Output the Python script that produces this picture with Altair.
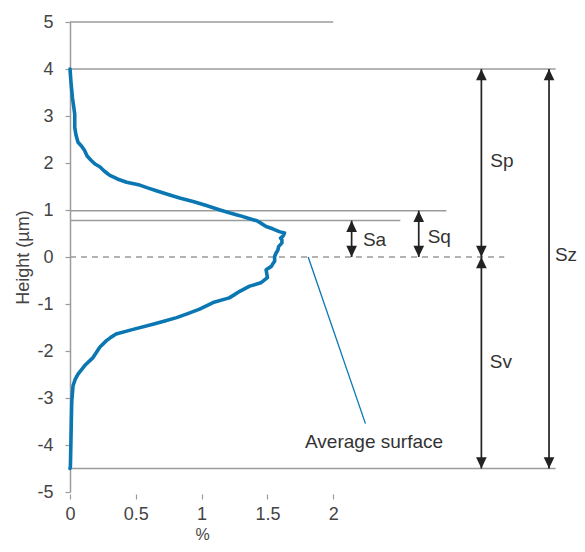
import altair as alt
import pandas as pd

# Height distribution curve (height in µm, share in %)
curve_height = [4.0, 3.7, 3.4, 3.04, 2.76, 2.6, 2.44, 2.35, 2.27, 2.15, 2.06, 1.98, 1.92, 1.83,
                1.74, 1.66, 1.59, 1.53, 1.47, 1.41, 1.32, 1.25, 1.18, 1.1, 1.0, 0.94, 0.88, 0.82,
                0.77, 0.72, 0.65, 0.6, 0.54, 0.51, 0.45, 0.40, 0.37, 0.30, 0.22, 0.15, 0.08, 0.01,
                -0.09, -0.15, -0.20, -0.27, -0.35, -0.44, -0.55, -0.62, -0.73, -0.80, -0.87, -0.97,
                -1.11, -1.20, -1.29, -1.36, -1.43, -1.54, -1.64, -1.71, -1.78, -1.92, -2.03, -2.14,
                -2.31, -2.49, -2.6, -2.74, -3.09, -3.5, -3.79, -4.2, -4.46, -4.5]
curve_pct = [0.0, 0.008, 0.018, 0.036, 0.036, 0.045, 0.061, 0.09, 0.11, 0.13, 0.16, 0.19, 0.226, 0.26,
             0.30, 0.36, 0.43, 0.53, 0.59, 0.656, 0.758, 0.84, 0.935, 1.03, 1.14, 1.21, 1.29, 1.36,
             1.42, 1.45, 1.49, 1.54, 1.59, 1.63, 1.62, 1.60, 1.61, 1.61, 1.585, 1.58, 1.565, 1.555,
             1.555, 1.54, 1.53, 1.49, 1.495, 1.50, 1.45, 1.365, 1.29, 1.25, 1.21, 1.087,
             0.985, 0.90, 0.81, 0.72, 0.63, 0.48, 0.35, 0.31, 0.277, 0.226, 0.20, 0.175,
             0.112, 0.061, 0.04, 0.023, 0.013, 0.01, 0.008, 0.005, 0.003, 0.0]

# Horizontal reference lines (level, end in x units)
ref_level = [5.0, 4.0, 0.985, 0.774, -4.5]
ref_end = [2.0, 3.69, 2.86, 2.51, 3.69]

# Mean plane (dashed)
mean_level = [0.0]
mean_end = [3.3]

# Measurement arrows (x position, top, bottom)
arrow_name = ["Sa", "Sq", "Sp", "Sv", "Sz"]
arrow_x = [2.14, 2.65, 3.126, 3.126, 3.64]
arrow_top = [0.774, 0.985, 4.0, 0.0, 4.0]
arrow_bottom = [0.0, 0.0, 0.0, -4.5, -4.5]

# Labels
label_text = ["Sa", "Sq", "Sp", "Sv", "Sz", "Average surface"]
label_x = [2.226, 2.718, 3.194, 3.19, 3.685, 1.786]
label_y = [0.366, 0.435, 2.036, -2.24, 0.05, -3.93]

# Leader line for "Average surface"
leader_x = [1.81]
leader_y = [0.0]
leader_x2 = [2.245]
leader_y2 = [-3.545]

x_ticks = [0, 0.5, 1, 1.5, 2]
y_ticks = [-5, -4, -3, -2, -1, 0, 1, 2, 3, 4, 5]

FONT = "Liberation Sans"
GRAY = "#9b9b9b"
BLUE = "#0a77b3"
INK = "#222222"
TXT = "#444444"

W, H = 507, 470
XMAX = W / 131.6

xs = alt.Scale(domain=[0, XMAX], nice=False, zero=False)
ys = alt.Scale(domain=[-5, 5], nice=False, zero=False)

curve_df = pd.DataFrame({"h": curve_height, "p": curve_pct, "i": list(range(len(curve_height)))})
ref_df = pd.DataFrame({"y": ref_level, "x0": [0.0] * len(ref_level), "x1": ref_end})
mean_df = pd.DataFrame({"y": mean_level, "x0": [0.0], "x1": mean_end})
arrow_df = pd.DataFrame({"n": arrow_name, "x": arrow_x, "t": arrow_top, "b": arrow_bottom})

heads = []
for xv, t, b in zip(arrow_x, arrow_top, arrow_bottom):
    heads.append({"x": xv, "y": t, "d": "up"})
    heads.append({"x": xv, "y": b, "d": "down"})
head_df = pd.DataFrame(heads)

label_df = pd.DataFrame({"t": label_text, "x": label_x, "y": label_y})
leader_df = pd.DataFrame({"x": leader_x, "y": leader_y, "x2": leader_x2, "y2": leader_y2})

x_axis = alt.Axis(values=x_ticks, title="%", domain=False, grid=False, ticks=True, tickColor=GRAY,
                  tickSize=5, tickWidth=1.2, offset=2, labelFont=FONT, labelFontSize=18,
                  labelColor=TXT, labelPadding=6, labelExpr="'' + datum.value",
                  titleFont=FONT, titleFontSize=16, titleFontWeight="normal", titleColor=TXT,
                  titleX=132, titleY=48, titleAlign="center", titleBaseline="bottom",
                  labelFlush=False)
y_axis = alt.Axis(values=y_ticks, title="Height (µm)", grid=False, domainColor=GRAY, domainWidth=1.5,
                  tickColor=GRAY, tickSize=5, tickWidth=1.2, labelFont=FONT, labelFontSize=18,
                  labelColor=TXT, labelPadding=12, labelExpr="'' + datum.value",
                  titleFont=FONT, titleFontSize=18, titleFontWeight="normal", titleColor=TXT,
                  titleX=-42, titleBaseline="alphabetic", titleAlign="center", titleAngle=270)

base_axes = alt.Chart(curve_df).mark_line(opacity=0).encode(
    x=alt.X("p:Q", scale=xs, axis=x_axis),
    y=alt.Y("h:Q", scale=ys, axis=y_axis),
)

refs = alt.Chart(ref_df).mark_rule(color=GRAY, strokeWidth=1.5).encode(
    x=alt.X("x0:Q", scale=xs), x2="x1:Q", y=alt.Y("y:Q", scale=ys))

mean = alt.Chart(mean_df).mark_rule(color=GRAY, strokeWidth=1.5, strokeDash=[6, 5]).encode(
    x=alt.X("x0:Q", scale=xs), x2="x1:Q", y=alt.Y("y:Q", scale=ys))

curve = alt.Chart(curve_df).mark_line(color=BLUE, strokeWidth=3.6, strokeJoin="round", strokeCap="round").encode(
    x=alt.X("p:Q", scale=xs), y=alt.Y("h:Q", scale=ys), order="i:Q")

shafts = alt.Chart(arrow_df).mark_rule(color=INK, strokeWidth=1.7).encode(
    x=alt.X("x:Q", scale=xs), y=alt.Y("t:Q", scale=ys), y2="b:Q")

up_path = "M0,0L0.52,1.1L-0.52,1.1Z"
down_path = "M0,0L0.52,-1.1L-0.52,-1.1Z"
arrowheads = alt.Chart(head_df).mark_point(filled=True, opacity=1, color=INK, size=420, strokeWidth=0).encode(
    x=alt.X("x:Q", scale=xs), y=alt.Y("y:Q", scale=ys),
    shape=alt.Shape("d:N", scale=alt.Scale(domain=["up", "down"], range=[up_path, down_path]), legend=None))

leader = alt.Chart(leader_df).mark_rule(color=BLUE, strokeWidth=1.3).encode(
    x=alt.X("x:Q", scale=xs), y=alt.Y("y:Q", scale=ys), x2="x2:Q", y2="y2:Q")

labels = alt.Chart(label_df).mark_text(align="left", baseline="middle", font=FONT, fontSize=19,
                                        color="#333333").encode(
    x=alt.X("x:Q", scale=xs), y=alt.Y("y:Q", scale=ys), text="t:N")

chart = alt.layer(base_axes, refs, mean, leader, curve, shafts, arrowheads, labels).properties(
    width=W, height=H, autosize="none",
    padding={"left": 62, "top": 14, "right": 0, "bottom": 50},
).configure_view(stroke=None)

chart.save("out.html", embed_options={"renderer": "svg", "actions": False})
